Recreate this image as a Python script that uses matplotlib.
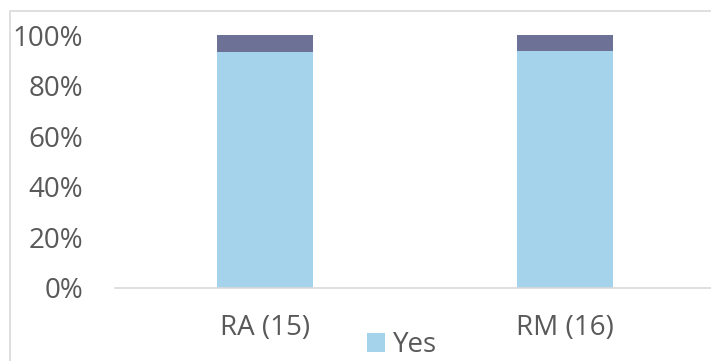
import matplotlib.pyplot as plt
from matplotlib.patches import Rectangle
from matplotlib.ticker import PercentFormatter

GROUPS = ['RA (15)', 'RM (16)']
YES = [14 / 15, 15 / 16]
NO = [1 / 15, 1 / 16]
YTICKS = [0, 0.2, 0.4, 0.6, 0.8, 1.0]

BLUE = '#A6D3EC'
SLATE = '#6E7196'
TEXT = '#595959'
GRID = '#D9D9D9'

plt.rcParams['font.family'] = ['Open Sans', 'DejaVu Sans']


def main():
	fig = plt.figure(figsize=(7.11, 3.61), dpi=100)

	# outer chart frame, right and bottom edges fall outside the canvas
	fig.patches.append(Rectangle((10 / 711, -0.2), 1.2, 1.2 - 11 / 361,
		transform=fig.transFigure, fill=False, edgecolor=GRID, linewidth=1.2))

	ax = fig.add_axes([115 / 711, 73 / 361, 600 / 711, 253 / 361])
	x = range(len(GROUPS))
	yes_bars = ax.bar(x, YES, width=0.317, color=BLUE, label='Yes')
	ax.bar(x, NO, width=0.317, bottom=YES, color=SLATE, label='No')

	ax.set_xlim(-0.5, 1.5)
	ax.set_ylim(0, 1)
	ax.set_yticks(YTICKS)
	ax.yaxis.set_major_formatter(PercentFormatter(1.0, decimals=0))
	ax.set_xticks(list(x))
	ax.set_xticklabels(GROUPS)
	ax.tick_params(axis='y', length=0, pad=23, labelsize=20, labelcolor=TEXT)
	ax.tick_params(axis='x', length=0, pad=19, labelsize=20, labelcolor=TEXT)
	for side in ['top', 'right', 'left']:
		ax.spines[side].set_visible(False)
	ax.spines['bottom'].set_color(GRID)
	ax.spines['bottom'].set_linewidth(1.2)

	fig.legend(handles=[yes_bars], labels=['Yes'], loc='center',
		bbox_to_anchor=(402 / 711, 1 - 345 / 361), frameon=False,
		fontsize=20, labelcolor=TEXT, handlelength=0.65, handleheight=0.65,
		handletextpad=0.3, borderpad=0, borderaxespad=0)

	fig.savefig('out.png', dpi=100)


if __name__ == '__main__':
	main()
